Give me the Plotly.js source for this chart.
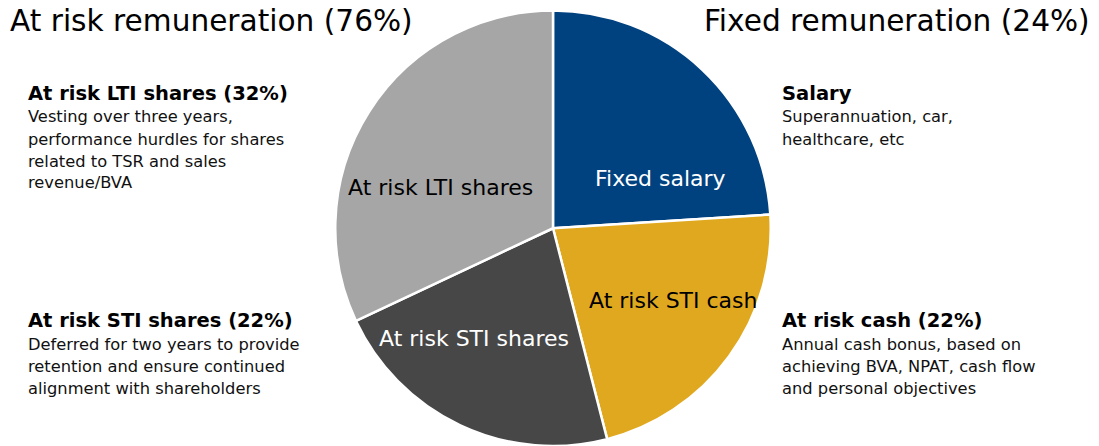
<!DOCTYPE html>
<html>
<head>
<meta charset="utf-8">
<script src="https://cdn.plot.ly/plotly-3.0.1.min.js"></script>
<style>
  html, body { margin: 0; padding: 0; background: #ffffff; }
  #chart { width: 1099px; height: 446px; }
</style>
</head>
<body>
<div id="chart"></div>
<script>
// ---- Data ----
const sliceLabels = ["Fixed salary", "At risk STI cash", "At risk STI shares", "At risk LTI shares"];
const sliceValues = [24, 22, 22, 32];
const sliceColors = ["#00417F", "#E0A81F", "#474747", "#A6A6A6"];
const sliceTextColors = ["#ffffff", "#000000", "#ffffff", "#000000"];

const groupTitles = ["At risk remuneration (76%)", "Fixed remuneration (24%)"];

const blockHeadings = ["At risk LTI shares (32%)", "At risk STI shares (22%)", "Salary", "At risk cash (22%)"];
const blockLTI = ["Vesting over three years,", "performance hurdles for shares", "related to TSR and sales", "revenue/BVA"];
const blockSTIShares = ["Deferred for two years to provide", "retention and ensure continued", "alignment with shareholders"];
const blockSalary = ["Superannuation, car,", "healthcare, etc"];
const blockCash = ["Annual cash bonus, based on", "achieving BVA, NPAT, cash flow", "and personal objectives"];

// ---- Layout helpers ----
const W = 1099, H = 446;
const FONT = "DejaVu Sans, Verdana, sans-serif";
const px = x => x / W;
const py = y => 1 - y / H;

const annotations = [];
function addText(text, x, y, opts) {
  annotations.push(Object.assign({
    text: text, x: px(x), y: py(y), xref: "paper", yref: "paper",
    showarrow: false, xanchor: "left", yanchor: "middle",
    font: {family: FONT, size: 16, color: "#000000"}
  }, opts || {}));
}

// Group titles
addText(groupTitles[0], 8, 21, {font: {family: FONT, size: 29.6, color: "#000000"}});
addText(groupTitles[1], 1092, 21, {xanchor: "right", font: {family: FONT, size: 29.6, color: "#000000"}});

// Side blocks
const blockBodies = [blockLTI, blockSTIShares, blockSalary, blockCash];
const blockPos = [[26, 93], [26, 320], [780, 93], [780, 320]];
const lineGap = 22, firstGap = 24;
blockHeadings.forEach((h, i) => {
  const [bx, by] = blockPos[i];
  addText("<b>" + h + "</b>", bx, by, {font: {family: FONT, size: 19.5, color: "#000000"}});
  blockBodies[i].forEach((line, j) => {
    addText(line, bx, by + firstGap + j * lineGap, {font: {family: FONT, size: 16.3, color: "#111111"}});
  });
});

// Slice labels (positions in pixels)
const sliceLabelPos = [[661, 179], [673, 300], [474, 338], [440, 187]];
sliceLabels.forEach((lab, i) => {
  addText(lab, sliceLabelPos[i][0], sliceLabelPos[i][1], {
    xanchor: "center", font: {family: FONT, size: 22, color: sliceTextColors[i]}
  });
});

// ---- Pie ----
const cx = 553, cy = 228.5, r = 218;
const trace = {
  type: "pie",
  labels: sliceLabels,
  values: sliceValues,
  sort: false,
  direction: "clockwise",
  rotation: 0,
  textinfo: "none",
  hoverinfo: "label+value",
  marker: {colors: sliceColors, line: {color: "#ffffff", width: 2.5}},
  domain: {x: [px(cx - r), px(cx + r)], y: [Math.max(0, py(cy + r)), py(cy - r)]},
  showlegend: false
};

const layout = {
  width: W, height: H,
  margin: {l: 0, r: 0, t: 0, b: 0},
  paper_bgcolor: "#ffffff",
  plot_bgcolor: "#ffffff",
  showlegend: false,
  annotations: annotations
};

Plotly.newPlot("chart", [trace], layout, {displayModeBar: false, staticPlot: true});
</script>
</body>
</html>
